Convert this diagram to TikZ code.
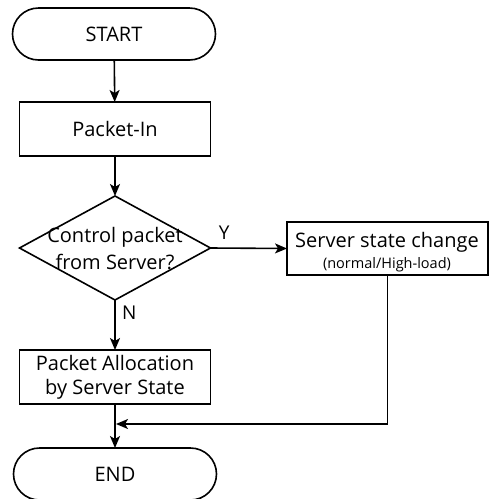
\documentclass[tikz,border=0pt]{standalone}
\usepackage{fontspec}
\setmainfont{Open Sans}
\usetikzlibrary{arrows.meta,shapes.geometric}
\begin{document}
\begin{tikzpicture}[x=1pt,y=-1pt,
  font=\fontsize{20}{26}\selectfont,
  every node/.style={inner sep=0pt, outer sep=0pt},
  line/.style={line width=1.6pt},
  flow/.style={line, -{Stealth[length=12pt,width=10pt,inset=3pt]}},
  terminal/.style={line, draw, rectangle, rounded corners=26pt,
    minimum width=203pt, minimum height=52pt},
  process/.style={line, draw, rectangle, minimum width=191pt,
    minimum height=54pt, align=center},
  decision/.style={line, draw, diamond, aspect=1.84,
    minimum width=191pt, minimum height=104pt, align=center},
  tag/.style={font=\fontsize{19}{22}\selectfont}]
\useasboundingbox (0,0) rectangle (491,499);
\node[terminal] (start) at (114,34) {START};
\node[process] (pin) at (115,129) {Packet-In};
\node[decision] (dec) at (115,248) {};
\node[align=center, font=\fontsize{20}{27}\selectfont] (dectext) at (115,249)
  {Control packet\\from Server?};
\node[process, minimum width=201pt, minimum height=53pt] (srv) at (387.5,248.5) {};
\node[align=center] (srvtext) at (387,252)
  {Server state change\\[-5pt]{\fontsize{14.5}{17}\selectfont (normal/High-load)}};
\node[process] (alloc) at (115,377) {Packet Allocation\\[-2pt]by Server State};
\node[terminal] (end) at (115,474) {END};
\coordinate (turn) at (srv.south |- 0,424);
\coordinate (join) at (alloc.south |- 0,424);
\draw[flow] (start) -- (pin);
\draw[flow] (pin) -- (dec);
\draw[flow] (dec.east) -- node[tag, above=9pt, pos=0.18] (ylab) {Y} (srv.west);
\draw[flow] (dec.south) -- node[tag, right=7pt, pos=0.25] (nlab) {N} (alloc.north);
\draw[flow] (alloc) -- (end);
\draw[flow] (srv.south) -- (turn) -- ([xshift=1pt]join);
\end{tikzpicture}
\end{document}
